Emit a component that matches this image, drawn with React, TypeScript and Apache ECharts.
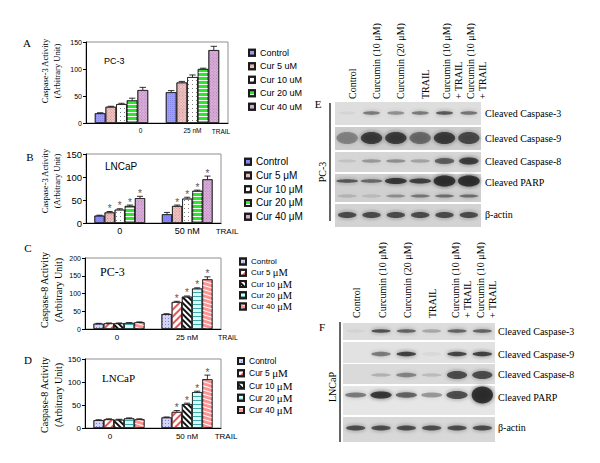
import React, { useEffect, useRef } from 'react';
import * as echarts from 'echarts';

const SANS = '"Liberation Sans", Arial, sans-serif';
const SERIF = '"Liberation Serif", "Times New Roman", serif';

// ---------- bar chart data ----------
const catsA = ['0', '25 nM'];
const catsB = ['0', '50 nM'];
const catsC = ['0', '25 nM'];
const catsD = ['0', '50 nM'];

const legendA = ['Control', 'Cur 5 uM', 'Cur 10 uM', 'Cur 20 uM', 'Cur 40 uM'];
const legendB = ['Control', 'Cur 5 μM', 'Cur 10 μM', 'Cur 20 μM', 'Cur 40 μM'];
const legendC = ['Control', 'Cur 5 μM', 'Cur 10 μM', 'Cur 20 μM', 'Cur 40 μM'];
const legendD = ['Control', 'Cur 5 μM', 'Cur 10 μM', 'Cur 20 μM', 'Cur 40 μM'];

// A: Caspase-3, PC-3
const aNoTrail = [18, 30, 35, 42, 61];
const aTrail = [57, 75, 85, 100, 135];
const aErrNo = [1, 1, 1.5, 4, 5];
const aErrTr = [3, 2, 4, 1.5, 7];
const aStarNo = [0, 0, 0, 0, 0];
const aStarTr = [0, 0, 0, 0, 0];

// B: Caspase-3, LNCaP
const bNoTrail = [16, 23, 29, 37, 54];
const bTrail = [19, 37, 53, 70, 95];
const bErrNo = [1, 2, 2, 2, 4];
const bErrTr = [4, 2, 3, 1.5, 7];
const bStarNo = [0, 1, 1, 1, 1];
const bStarTr = [0, 1, 1, 1, 1];

// C: Caspase-8, PC-3
const cNoTrail = [15, 16, 16, 17, 19];
const cTrail = [42, 76, 91, 114, 140];
const cErrNo = [1, 1, 1, 1, 1];
const cErrTr = [1, 2, 2, 2, 7];
const cStarNo = [0, 0, 0, 0, 0];
const cStarTr = [0, 1, 1, 1, 1];

// D: Caspase-8, LNCaP
const dNoTrail = [17, 19, 18, 21, 19];
const dTrail = [23, 35, 52, 78, 106];
const dErrNo = [1, 1, 1, 1, 1];
const dErrTr = [1, 3, 2, 2, 9];
const dStarNo = [0, 0, 0, 0, 0];
const dStarTr = [0, 1, 1, 1, 1];

// ---------- western blot data (band intensities per lane) ----------
const laneLabels = ['Control', 'Curcumin (10 μM)', 'Curcumin (20 μM)', 'TRAIL', 'Curcumin (10 μM)\n+ TRAIL', 'Curcumin (10 μM)\n+ TRAIL'];
const rowLabels = ['Cleaved Caspase-3', 'Cleaved Caspase-9', 'Cleaved Caspase-8', 'Cleaved PARP', 'β-actin'];

const eCasp3 = [0.05, 0.55, 0.45, 0.55, 0.75, 0.6];
const eCasp9 = [0.45, 0.9, 0.9, 0.6, 0.9, 0.8];
const eCasp8 = [0.1, 0.35, 0.4, 0.3, 0.7, 0.9];
const eParp = [0.75, 0.65, 0.95, 0.9, 1, 1];
const eParpLow = [0.2, 0.15, 0.4, 0.55, 0.6, 0.6];
const eActin = [0.8, 0.8, 0.8, 0.8, 0.8, 0.8];

const fCasp3 = [0.05, 0.8, 0.7, 0.3, 0.7, 0.7];
const fCasp9 = [0.02, 0.55, 0.9, 0.05, 0.85, 0.9];
const fCasp8 = [0.02, 0.25, 0.5, 0.2, 0.8, 0.8];
const fParp = [0.55, 0.95, 0.7, 0.4, 0.8, 1];
const fActin = [0.8, 0.8, 0.8, 0.8, 0.8, 0.8];

const GAP = 0.25;

const dec = (color: string, o: any) => ({ symbol: 'rect', symbolSize: 1, color, ...o });

const stylesAB = (ctrl: string) => [
  { color: ctrl, decal: dec('rgba(70,70,200,0.25)', { dashArrayX: [1, 1], dashArrayY: [1, 1] }) },
  { color: '#f1c6c6', decal: dec('rgba(160,70,70,0.45)', { dashArrayX: [1, 1], dashArrayY: [1, 1], rotation: Math.PI / 4 }) },
  { color: '#ffffff', decal: dec('rgba(30,30,30,0.7)', { dashArrayX: [1, 3], dashArrayY: [1, 3], symbolSize: 0.8 }) },
  { color: '#2ee62e', decal: dec('#ffffff', { dashArrayX: [1, 0], dashArrayY: [1, 3] }) },
  { color: '#dcb0dc', decal: dec('rgba(120,60,120,0.4)', { dashArrayX: [1, 1], dashArrayY: [1, 1], rotation: Math.PI / 4 }) },
];

const stylesCD = [
  { color: '#d4d4f6', decal: dec('rgba(60,60,190,0.55)', { dashArrayX: [1, 2], dashArrayY: [1, 2] }) },
  { color: '#ffffff', decal: dec('#e05a5a', { dashArrayX: [1, 0], dashArrayY: [1.2, 2.2], rotation: -Math.PI / 4 }) },
  { color: '#ffffff', decal: dec('#111111', { dashArrayX: [1, 0], dashArrayY: [2, 1.8], rotation: Math.PI / 4 }) },
  { color: '#d6fafa', decal: dec('#3fa9a9', { dashArrayX: [1, 0], dashArrayY: [1, 2.5] }) },
  { color: '#ff9494', decal: dec('#ffffff', { dashArrayX: [1, 0], dashArrayY: [1, 2.5], rotation: 0.3 }) },
];

const panels = [
  {
    id: 'A', cats: catsA, legend: legendA, noTrail: aNoTrail, trail: aTrail, errNo: aErrNo, errTr: aErrTr, starNo: aStarNo, starTr: aStarTr,
    yMax: 150, styles: stylesAB('#9d9df3'), grid: [86, 42, 142, 81], yFont: 7, xFont: 6.5, xMargin: 4, zeroPad: [0, 0, 0, 38],
    legendPos: [248, 46], legendFont: 9, legendLH: 13.5, legendRich: false,
  },
  {
    id: 'B', cats: catsB, legend: legendB, noTrail: bNoTrail, trail: bTrail, errNo: bErrNo, errTr: bErrTr, starNo: bStarNo, starTr: bStarTr,
    yMax: 150, styles: stylesAB('#8a8af2'), grid: [86, 154, 135, 69], yFont: 9.5, xFont: 9, xMargin: 3, zeroPad: [0, 0, 0, 0],
    legendPos: [244, 155], legendFont: 10, legendLH: 13.7, legendRich: false,
  },
  {
    id: 'C', cats: catsC, legend: legendC, noTrail: cNoTrail, trail: cTrail, errNo: cErrNo, errTr: cErrTr, starNo: cStarNo, starTr: cStarTr,
    yMax: 200, styles: stylesCD, grid: [85, 258, 136, 71], yFont: 7, xFont: 8, xMargin: 4, zeroPad: [0, 4, 0, 0],
    legendPos: [239, 256], legendFont: 8, legendLH: 11.2, legendRich: true,
  },
  {
    id: 'D', cats: catsD, legend: legendD, noTrail: dNoTrail, trail: dTrail, errNo: dErrNo, errTr: dErrTr, starNo: dStarNo, starTr: dStarTr,
    yMax: 150, styles: stylesCD, grid: [85, 359, 136, 69], yFont: 8, xFont: 8, xMargin: 4, zeroPad: [0, 18, 0, 0],
    legendPos: [237, 355], legendFont: 8.5, legendLH: 12.2, legendRich: true,
  },
];

const renderErr = (params: any, api: any) => {
  const c = api.value(0);
  const s = api.value(1);
  const v = api.value(2);
  const e = api.value(3);
  const st = api.value(4);
  const band = api.size([1, 0])[0];
  const bw = (band * (1 - GAP)) / 5;
  const base = api.coord([c, v]);
  const tip = api.coord([c, v + e]);
  const x = base[0] + (s - 2) * bw;
  const cap = bw * 0.3;
  const children: any[] = [
    { type: 'line', shape: { x1: x, y1: base[1], x2: x, y2: tip[1] }, style: { stroke: '#000', lineWidth: 0.8 } },
    { type: 'line', shape: { x1: x - cap, y1: tip[1], x2: x + cap, y2: tip[1] }, style: { stroke: '#000', lineWidth: 0.8 } },
  ];
  if (st) {
    children.push({
      type: 'text', x, y: tip[1] + 2,
      style: { text: '*', fontSize: 10, fontFamily: SANS, fill: '#555', align: 'center', verticalAlign: 'bottom' },
    });
  }
  return { type: 'group', children };
};

function buildBlot(cfg: any) {
  const els: any[] = [];
  const laneW = (cfg.x1 - cfg.x0) / 6;
  cfg.rows.forEach((r: any) => {
    els.push({ type: 'rect', shape: { x: cfg.x0, y: r[0], width: cfg.x1 - cfg.x0, height: r[1] - r[0] }, style: { fill: r[2] } });
  });
  cfg.bands.forEach((b: any) => {
    b.int.forEach((a: number, i: number) => {
      if (a < 0.03) return;
      const cx = cfg.x0 + (i + 0.5) * laneW;
      const h = b.hs ? b.hs[i] : b.h;
      const al = (a * 0.85).toFixed(2);
      els.push({
        type: 'ellipse',
        shape: { cx, cy: b.y, rx: laneW * (b.w || 0.4), ry: h / 2 },
        style: { fill: `rgba(35,35,35,${al})`, shadowBlur: 4, shadowColor: `rgba(35,35,35,${al})` },
      });
    });
  });
  laneLabels.forEach((t, i) => {
    const cx = cfg.x0 + (i + 0.5) * laneW + cfg.labelShift + (t.includes('\n') ? 3 : 0);
    els.push({
      type: 'text', x: cx, y: cfg.labelBottom, rotation: Math.PI / 2,
      style: { text: t, fontSize: 10, fontFamily: SERIF, fill: '#000', align: 'left', verticalAlign: 'middle', lineHeight: 12 },
    });
  });
  rowLabels.forEach((t, i) => {
    els.push({ type: 'text', x: cfg.rowLabelX, y: cfg.rowLabelY[i], style: { text: t, fontSize: 10, fontFamily: SERIF, fill: '#000', align: 'left', verticalAlign: 'middle' } });
  });
  els.push({ type: 'line', shape: { x1: cfg.vline[0], y1: cfg.vline[1], x2: cfg.vline[0], y2: cfg.vline[2] }, style: { stroke: '#666', lineWidth: 2 } });
  els.push({ type: 'text', x: cfg.cell[1], y: cfg.cell[2], rotation: Math.PI / 2, style: { text: cfg.cell[0], fontSize: 10, fontFamily: SERIF, fill: '#000', align: 'center', verticalAlign: 'middle' } });
  return els;
}

const blotE = {
  x0: 335, x1: 481,
  rows: [[102, 125, '#dedede'], [127, 150, '#cdcdcd'], [152, 172, '#d6d6d6'], [174, 202, '#d0d0d0'], [204, 227, '#d3d3d3']],
  bands: [
    { y: 113, h: 3.5, w: 0.35, int: eCasp3 },
    { y: 138, h: 12, w: 0.44, int: eCasp9 },
    { y: 161, h: 4, hs: [3, 3.5, 3.5, 3.5, 6, 7], int: eCasp8 },
    { y: 181, h: 5, hs: [3.5, 3.5, 6, 5, 11, 11], w: 0.45, int: eParp },
    { y: 196, h: 3, int: eParpLow },
    { y: 215, h: 6, w: 0.38, int: eActin },
  ],
  labelShift: 5, labelBottom: 99, rowLabelX: 485, rowLabelY: [113, 138, 161, 182, 214],
  vline: [330, 103, 221], cell: ['PC-3', 322, 172],
};

const blotF = {
  x0: 343, x1: 495,
  rows: [[323, 340, '#dcdcdc'], [342, 363, '#e2e2e2'], [364, 384, '#dadada'], [386, 415, '#e6e6e6'], [417, 442, '#d8d8d8']],
  bands: [
    { y: 331, h: 3.5, w: 0.38, int: fCasp3 },
    { y: 354, h: 4.5, w: 0.38, int: fCasp9 },
    { y: 375, h: 5, hs: [3, 3, 4.5, 3, 8, 8], int: fCasp8 },
    { y: 395, h: 7, hs: [5, 7, 5.5, 5, 8, 17], w: 0.42, int: fParp },
    { y: 428, h: 5, w: 0.38, int: fActin },
  ],
  labelShift: 1, labelBottom: 318, rowLabelX: 498, rowLabelY: [331, 354, 374, 397, 427],
  vline: [340, 322, 442], cell: ['LNCaP', 332, 387],
};

function buildOption() {
  const grid: any[] = [];
  const xAxis: any[] = [];
  const yAxis: any[] = [];
  const series: any[] = [];
  const legend: any[] = [];

  panels.forEach((p, gi) => {
    grid.push({ left: p.grid[0], top: p.grid[1], width: p.grid[2], height: p.grid[3], show: true, borderColor: '#8f8f8f', borderWidth: 1, backgroundColor: 'transparent' });
    xAxis.push({
      type: 'category', gridIndex: gi, data: p.cats,
      axisLine: { lineStyle: { color: '#000', width: 1 } }, axisTick: { show: false },
      axisLabel: {
        interval: 0, fontSize: p.xFont, fontFamily: SANS, color: '#000', margin: p.xMargin,
        formatter: (v: string, i: number) => (i === 0 ? `{z|${v}}` : v),
        rich: { z: { fontSize: p.xFont, fontFamily: SANS, color: '#000', padding: p.zeroPad } },
      },
    });
    yAxis.push({
      type: 'value', gridIndex: gi, min: 0, max: p.yMax, interval: 50,
      axisLine: { show: true, lineStyle: { color: '#000', width: 1 } },
      axisTick: { show: true, length: 3, lineStyle: { color: '#000' } },
      splitLine: { show: false },
      axisLabel: { fontSize: p.yFont, fontFamily: SANS, color: '#000', margin: 4 },
    });
    const names = p.legend.map((l) => `${p.id}|${l}`);
    p.styles.forEach((st: any, s: number) => {
      series.push({
        type: 'bar', name: names[s], xAxisIndex: gi, yAxisIndex: gi,
        data: [p.noTrail[s], p.trail[s]], barGap: '0%', barCategoryGap: `${GAP * 100}%`,
        itemStyle: { ...st, borderColor: '#1a1a1a', borderWidth: 0.7 },
      });
    });
    const errData: any[] = [];
    for (let s = 0; s < 5; s++) {
      errData.push([0, s, p.noTrail[s], p.errNo[s], p.starNo[s]]);
      errData.push([1, s, p.trail[s], p.errTr[s], p.starTr[s]]);
    }
    series.push({ type: 'custom', xAxisIndex: gi, yAxisIndex: gi, data: errData, encode: { x: 0, y: 2 }, renderItem: renderErr, z: 5, silent: true });

    const rich = {
      t: { fontFamily: SANS, fontSize: p.legendFont, color: '#000', lineHeight: p.legendLH },
      u: { fontFamily: SERIF, fontSize: p.legendFont + 2.5, color: '#000', lineHeight: p.legendLH },
    };
    legend.push({
      orient: 'vertical', left: p.legendPos[0], top: p.legendPos[1], itemWidth: 6, itemHeight: 6, itemGap: 0,
      icon: 'rect', selectedMode: false, data: names, padding: 0,
      formatter: (n: string) => {
        const label = n.split('|')[1];
        if (!p.legendRich) return label;
        const m = label.match(/^(.*?)(μM)$/);
        return m ? `{t|${m[1]}}{u|${m[2]}}` : `{t|${label}}`;
      },
      textStyle: { fontFamily: SANS, fontSize: p.legendFont, color: '#000', lineHeight: p.legendLH, rich },
    });
  });

  const txt = (text: string, x: number, y: number, fontSize: number, fontFamily: string, align = 'center', rotation = 0) => ({
    type: 'text', x, y, rotation, style: { text, fontSize, fontFamily, fill: '#000', align, verticalAlign: 'middle' },
  });

  const g: any[] = [
    txt('A', 27, 43, 11, SERIF), txt('B', 30, 157, 11, SERIF), txt('C', 28, 248, 11, SERIF), txt('D', 28, 360, 11, SERIF),
    txt('E', 318, 104, 11, SERIF), txt('F', 322, 327, 11, SERIF),
    txt('Caspase-3 Activity', 45, 71, 8.5, SERIF, 'center', Math.PI / 2),
    txt('(Arbitrary Unit)', 57, 71, 8.5, SERIF, 'center', Math.PI / 2),
    txt('Caspase-3 Activity', 45, 181, 8.5, SERIF, 'center', Math.PI / 2),
    txt('(Arbitrary Unit)', 57, 181, 8.5, SERIF, 'center', Math.PI / 2),
    txt('Caspase-8 Activity', 44, 290, 10, SERIF, 'center', Math.PI / 2),
    txt('(Arbitrary Unit)', 58, 290, 10, SERIF, 'center', Math.PI / 2),
    txt('Caspase-8 Activity', 44, 395, 10, SERIF, 'center', Math.PI / 2),
    txt('(Arbitrary Unit)', 58, 395, 10, SERIF, 'center', Math.PI / 2),
    txt('PC-3', 104, 61, 9, SANS, 'left'),
    txt('LNCaP', 105, 166, 10, SANS, 'left'),
    txt('PC-3', 100, 272, 12, SERIF, 'left'),
    txt('LNCaP', 102, 378, 11, SERIF, 'left'),
    txt('TRAIL', 221, 131, 6.5, SANS),
    txt('TRAIL', 227, 231, 8, SANS),
    txt('TRAIL', 228, 337, 7, SANS),
    txt('TRAIL', 226, 436, 8, SANS),
    ...buildBlot(blotE),
    ...buildBlot(blotF),
  ];

  return {
    animation: false,
    backgroundColor: '#ffffff',
    grid, xAxis, yAxis, series, legend,
    graphic: { elements: g },
  };
}

export default function App() {
  const ref = useRef<HTMLDivElement>(null);
  useEffect(() => {
    if (!ref.current) return;
    const chart = echarts.init(ref.current, undefined, { renderer: 'svg' });
    chart.setOption(buildOption() as any);
    return () => chart.dispose();
  }, []);
  return <div ref={ref} style={{ position: 'fixed', left: 0, top: 0, width: 600, height: 463, background: '#fff' }} />;
}
